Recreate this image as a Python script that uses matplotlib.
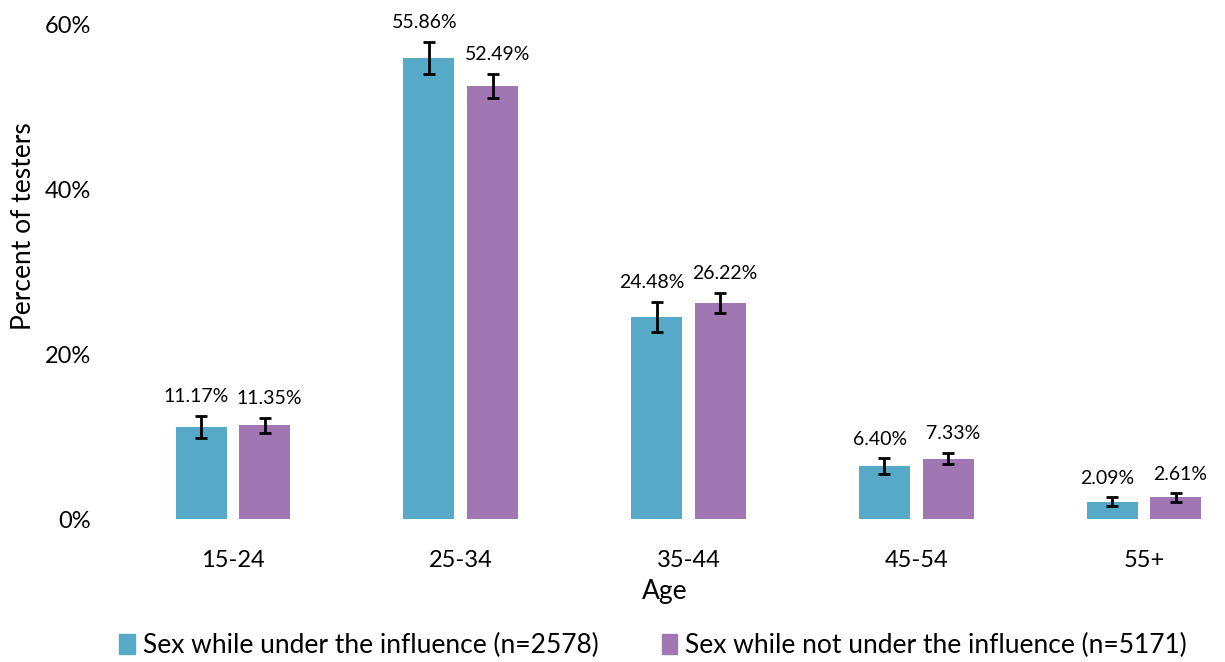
import numpy as np
import matplotlib.pyplot as plt
from matplotlib.patches import Patch

plt.rcParams['font.family'] = ['Lato', 'DejaVu Sans']

# age groups and percentages
ages = ['15-24', '25-34', '35-44', '45-54', '55+']
under = [11.17, 55.86, 24.48, 6.40, 2.09]
not_under = [11.35, 52.49, 26.22, 7.33, 2.61]
under_err = [1.3, 1.95, 1.8, 0.95, 0.55]
not_under_err = [0.9, 1.45, 1.2, 0.7, 0.5]
labels = ['Sex while under the influence (n=2578)',
          'Sex while not under the influence (n=5171)']

blue = '#56AAC8'
purple = '#A077B2'

fig = plt.figure(figsize=(12.25, 6.62), dpi=100)
ax = fig.add_axes([105 / 1225, 0.216, 1 - 105 / 1225, 0.7477])

x = np.arange(len(ages))
w = 0.224
off = 0.14
ax.bar(x - off, under, w, color=blue, yerr=under_err,
       error_kw=dict(ecolor='black', elinewidth=2, capsize=4, capthick=2))
ax.bar(x + off, not_under, w, color=purple, yerr=not_under_err,
       error_kw=dict(ecolor='black', elinewidth=2, capsize=4, capthick=2))

# value labels, nudged slightly apart like the original
for xi, v, e in zip(x - off, under, under_err):
    ax.text(xi - 0.02, v + e + 1.3, f'{v:.2f}%', ha='center', va='bottom',
            fontsize=14, clip_on=False)
for xi, v, e in zip(x + off, not_under, not_under_err):
    ax.text(xi + 0.02, v + e + 1.3, f'{v:.2f}%', ha='center', va='bottom',
            fontsize=14, clip_on=False)

ax.set_xlim(-0.562, 4.356)
ax.set_ylim(0, 60)
ax.set_yticks([0, 20, 40, 60])
ax.set_yticklabels(['0%', '20%', '40%', '60%'])
ax.set_xticks(x)
ax.set_xticklabels(ages)
ax.tick_params(axis='both', length=0, labelsize=17)
ax.tick_params(axis='x', pad=22)
ax.tick_params(axis='y', pad=10)
for s in ax.spines.values():
    s.set_visible(False)

ax.set_xlabel('Age', fontsize=19, labelpad=6)
ax.set_ylabel('Percent of testers', fontsize=19)
ax.yaxis.set_label_coords(-0.062, 0.592)

handles = [Patch(color=blue), Patch(color=purple)]
fig.legend(handles, labels, loc='lower center', ncol=2, frameon=False,
           fontsize=19, bbox_to_anchor=(0.533, -0.03), handlelength=0.6,
           handleheight=0.8, handletextpad=0.3, columnspacing=2.4)

fig.savefig('out.png', dpi=100)
